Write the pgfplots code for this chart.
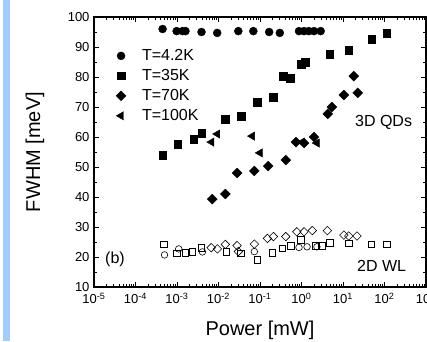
\documentclass[border=0pt]{standalone}
\usepackage{fontspec}
\setmainfont{Liberation Sans}
\usepackage{pgfplots}
\pgfplotsset{compat=1.18}
\definecolor{strip}{RGB}{160,204,255}
\begin{document}
\begin{tikzpicture}
\path[use as bounding box] (0pt,0pt) rectangle (427pt,341pt);
\fill[strip] (3pt,0pt) rectangle (10pt,341pt);
\begin{axis}[
 at={(94pt,54pt)}, anchor=south west,
 scale only axis, width=332pt, height=270pt,
 xmode=log, xmin=1e-5, xmax=1e3, ymin=10, ymax=100,
 xtick={1e-5,1e-4,1e-3,1e-2,1e-1,1,10,100,1000},
 xticklabels={10\textsuperscript{-5},10\textsuperscript{-4},10\textsuperscript{-3},10\textsuperscript{-2},10\textsuperscript{-1},10\textsuperscript{0},10\textsuperscript{1},10\textsuperscript{2},10\textsuperscript{3}},
 ytick={10,20,...,100}, minor y tick num=1,
 axis line style={line width=1.4pt},
 major tick length=5pt, minor tick length=3pt,
 tick style={line width=0.8pt, black},
 tick label style={font=\fontsize{13}{15}\selectfont},
 xticklabel style={yshift=-2.5pt},
 yticklabel style={xshift=-1pt},
 /pgf/number format/assume math mode=true,
 xlabel={Power [mW]}, ylabel={FWHM [meV]},
 label style={font=\fontsize{20}{24}\selectfont},
 xlabel style={at={(axis description cs:0.5,-0.181)}, anchor=base},
 ylabel style={at={(axis description cs:-0.178,0.5)}, anchor=center},
 legend style={draw=none, fill=none, at={(axis description cs:0.057,0.895)}, anchor=north west, font=\fontsize{16}{19}\selectfont, row sep=3.3pt,
   /tikz/every odd column/.append style={column sep=14pt}},
 legend cell align=left,
]
% filled: 3D QDs
\addplot[only marks, mark=*, mark size=4pt, black] coordinates {
(4.5e-4,96) (9.8e-4,95.3) (1.36e-3,95.3) (1.6e-3,95.3) (3.9e-3,95) (9.3e-3,94.7)
(0.030,95.3) (0.069,95.3) (0.166,95) (0.30,94.7) (0.87,95.3) (1.15,95.3) (1.5,95.3) (2.0,95.3) (2.9,95.3)};
\addlegendentry{T=4.2K}
\addplot[only marks, mark=square*, mark size=3.8pt, black] coordinates {
(4.5e-4,54) (1.03e-3,57.7) (2.5e-3,59.3) (3.9e-3,61.3) (0.0146,66) (0.035,67) (0.085,71.7)
(0.21,73.3) (0.36,80.3) (0.53,79.7) (0.97,84.3) (1.21,85) (4.8,87.7) (13.8,89) (49,92.7) (112,94.7)};
\addlegendentry{T=35K}
\addplot[only marks, mark=square*, mark size=3.5pt, mark options={rotate=45}, black] coordinates {
(7.1e-3,39.3) (0.0146,41) (0.028,48) (0.073,48.7) (0.157,50.3) (0.42,52.3) (0.74,58.3) (1.15,58)
(2.0,60) (4.3,67.7) (5.4,70) (10.5,74) (22.6,74.7) (18.2,80.3)};
\addlegendentry{T=70K}
\addplot[only marks, mark=triangle*, mark size=4.8pt, mark options={rotate=90}, black] coordinates {
(6.8e-3,58.3) (9.4e-3,61) (0.065,60.3) (0.10,54.7) (1.03,58.3) (2.35,58)};
\addlegendentry{T=100K}
% open: 2D WL
\addplot[forget plot, only marks, mark=square, mark size=3.3pt, mark options={line width=0.6pt}, black] coordinates {
(4.8e-4,24.2) (9.8e-4,21.2) (1.6e-3,21.5) (2.33e-3,21.7) (3.83e-3,23.1) (0.0155,21.8) (0.0348,21.3)
(0.087,19) (0.2,21.4) (0.347,22.9) (0.55,23.7) (0.96,25.7) (2.19,23.7) (3.1,23.7) (4.8,24.8)
(13.8,24.6) (48,24.3) (114,24.3)};
\addplot[forget plot, only marks, mark=o, mark size=3.3pt, mark options={line width=0.6pt}, black] coordinates {
(5.0e-4,20.7) (1.1e-3,22.7) (4.1e-3,21.7) (0.073,21.8) (0.87,23.2) (1.36,23.4) (2.35,23.4)};
\addplot[forget plot, only marks, mark=square, mark size=3pt, mark options={rotate=45, line width=0.6pt}, black] coordinates {
(6.65e-3,23.1) (9.4e-3,22.7) (0.0146,24.2) (0.028,23.8) (0.03,21.8) (0.073,24.3) (0.151,26.2)
(0.211,26.8) (0.418,26.8) (0.77,28.4) (1.15,28.4) (1.82,28.8) (4.2,28.8) (10.5,27.3) (13.8,27) (21.8,27)};
\node[font=\fontsize{16}{19}\selectfont] at (axis cs:95,65) {3D QDs};
\node[font=\fontsize{16}{19}\selectfont] at (axis cs:85,17) {2D WL};
\node[font=\fontsize{16}{19}\selectfont] at (axis cs:3.2e-5,19.3) {(b)};
\end{axis}
\end{tikzpicture}
\end{document}
